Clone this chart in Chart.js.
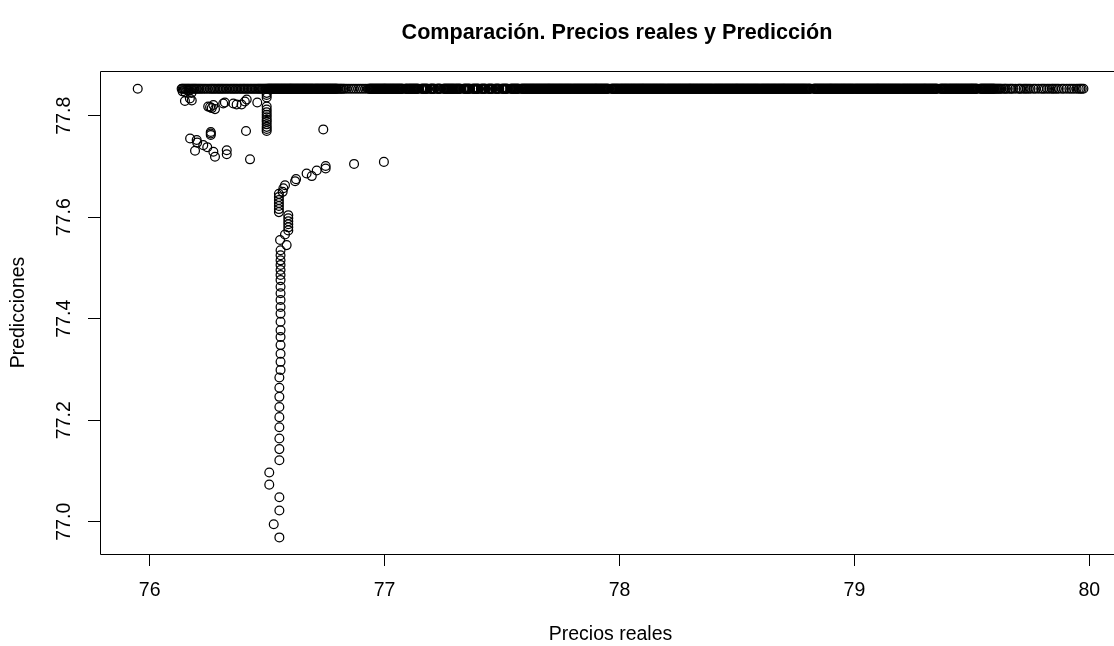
<!DOCTYPE html>
<html>
<head>
<meta charset="utf-8">
<title>Comparación. Precios reales y Predicción</title>
<script src="https://cdn.jsdelivr.net/npm/chart.js@4/dist/chart.umd.min.js"></script>
<style>
  html, body { margin: 0; padding: 0; background: #fff; overflow: hidden; }
  #marco { width: 1114px; height: 646px; overflow: hidden; position: relative; }
  canvas { position: absolute; left: 0; top: 0; }
</style>
</head>
<body>
<div id="marco"><canvas id="grafico" width="1130" height="646"></canvas></div>
<script>
// Precios reales cuya predicción queda en el valor máximo del modelo
const prediccionTope = 77.853;
const realesTope = [
  75.949,
  76.136, 76.14, 76.145, 76.15, 76.155, 76.16, 76.165, 76.17, 76.176, 76.181, 76.186, 76.191, 76.196,
  76.201, 76.207, 76.213, 76.219, 76.226, 76.233, 76.24, 76.248, 76.256, 76.262, 76.268, 76.274, 76.28, 76.287, 76.293, 76.299,
  76.305, 76.311, 76.317, 76.324, 76.33, 76.337, 76.344, 76.35, 76.356, 76.362, 76.368, 76.374, 76.381, 76.387, 76.393, 76.399,
  76.404, 76.41, 76.416, 76.422, 76.428, 76.434, 76.44, 76.446, 76.452, 76.458, 76.463, 76.468, 76.473, 76.478, 76.483, 76.488, 76.493, 76.497,
  76.501, 76.504, 76.506, 76.509, 76.511, 76.514, 76.516, 76.519, 76.521, 76.524, 76.526, 76.529, 76.531, 76.534, 76.536, 76.539, 76.541, 76.544, 76.546, 76.549,
  76.551, 76.554, 76.556, 76.559, 76.561, 76.564, 76.566, 76.569, 76.571, 76.574, 76.576, 76.579, 76.581, 76.584, 76.586, 76.589, 76.591, 76.594, 76.596, 76.599,
  76.6, 76.603, 76.605, 76.608, 76.61, 76.613, 76.615, 76.618, 76.62, 76.623, 76.625, 76.628, 76.63, 76.633, 76.635, 76.638, 76.64, 76.643, 76.645, 76.648,
  76.65, 76.653, 76.655, 76.658, 76.66, 76.663, 76.665, 76.668, 76.67, 76.673, 76.675, 76.678, 76.68, 76.683, 76.685, 76.688, 76.69, 76.693, 76.695, 76.698,
  76.701, 76.704, 76.706, 76.709, 76.711, 76.714, 76.716, 76.719, 76.721, 76.724, 76.726, 76.729, 76.731, 76.734, 76.736, 76.739, 76.741, 76.744, 76.746, 76.749,
  76.751, 76.754, 76.756, 76.759, 76.761, 76.764, 76.766, 76.769, 76.771, 76.774, 76.776, 76.779, 76.781, 76.784, 76.786, 76.789, 76.791, 76.794, 76.796, 76.799,
  76.804, 76.809, 76.814, 76.818, 76.824, 76.829, 76.838, 76.848, 76.858, 76.868, 76.878, 76.888, 76.898,
  76.908, 76.918, 76.928, 76.934, 76.936, 76.939, 76.941, 76.944, 76.946, 76.949, 76.951, 76.954, 76.956, 76.959, 76.961, 76.964, 76.966,
  76.969, 76.971, 76.974, 76.976, 76.979, 76.981, 76.984, 76.986, 76.989, 76.991, 76.994, 76.996, 76.999,
  77.0, 77.003, 77.005, 77.008, 77.01, 77.013, 77.015, 77.018, 77.02, 77.023, 77.025, 77.028, 77.03, 77.033, 77.035, 77.038, 77.04, 77.043, 77.045, 77.048,
  77.05, 77.053, 77.055, 77.058, 77.06, 77.063, 77.065, 77.068, 77.07, 77.073, 77.075, 77.078, 77.088, 77.09, 77.093, 77.095, 77.098,
  77.101, 77.104, 77.106, 77.109, 77.111, 77.114, 77.116, 77.119, 77.121, 77.124, 77.126, 77.129, 77.131, 77.134, 77.136, 77.139, 77.141, 77.144,
  77.156, 77.159, 77.161, 77.164, 77.166, 77.169, 77.171, 77.174, 77.176, 77.179, 77.181, 77.184, 77.194, 77.196, 77.199,
  77.2, 77.203, 77.205, 77.208, 77.21, 77.213, 77.223, 77.225, 77.228, 77.23, 77.233, 77.235, 77.238,
  77.25, 77.253, 77.255, 77.258, 77.26, 77.263, 77.265, 77.268, 77.27, 77.273, 77.275, 77.278, 77.28, 77.283, 77.285, 77.288, 77.29, 77.293, 77.295, 77.298,
  77.301, 77.304, 77.306, 77.309, 77.311, 77.314, 77.316, 77.319, 77.321, 77.324, 77.336, 77.339, 77.341, 77.344, 77.346, 77.349,
  77.351, 77.354, 77.356, 77.359, 77.361, 77.364, 77.374, 77.376, 77.379, 77.381, 77.384, 77.386, 77.389, 77.391, 77.394, 77.396, 77.399,
  77.4, 77.41, 77.413, 77.415, 77.418, 77.42, 77.423, 77.425, 77.428, 77.43, 77.44, 77.443, 77.445, 77.448,
  77.45, 77.453, 77.455, 77.458, 77.46, 77.47, 77.473, 77.475, 77.478, 77.48, 77.483, 77.485, 77.488, 77.498,
  77.501, 77.504, 77.506, 77.509, 77.511, 77.514, 77.516, 77.519, 77.521, 77.524, 77.536, 77.539, 77.541, 77.544, 77.546, 77.549,
  77.551, 77.554, 77.556, 77.559, 77.561, 77.564, 77.566, 77.569, 77.571, 77.581, 77.584, 77.586, 77.589, 77.591, 77.594, 77.596, 77.599,
  77.601, 77.604, 77.606, 77.609, 77.611, 77.614, 77.616, 77.619, 77.621, 77.624, 77.626, 77.629, 77.631, 77.634, 77.636, 77.639, 77.641, 77.644, 77.646, 77.649,
  77.651, 77.654, 77.656, 77.659, 77.661, 77.664, 77.666, 77.669, 77.671, 77.674, 77.676, 77.679, 77.681, 77.684, 77.686, 77.689, 77.691, 77.694, 77.696, 77.699,
  77.7, 77.703, 77.705, 77.708, 77.71, 77.713, 77.715, 77.718, 77.72, 77.723, 77.725, 77.728, 77.73, 77.733, 77.735, 77.738, 77.74, 77.743, 77.745, 77.748,
  77.75, 77.753, 77.755, 77.758, 77.76, 77.763, 77.765, 77.768, 77.77, 77.773, 77.775, 77.778, 77.78, 77.783, 77.785, 77.788, 77.79, 77.793, 77.795, 77.798,
  77.801, 77.804, 77.806, 77.809, 77.811, 77.814, 77.816, 77.819, 77.821, 77.824, 77.826, 77.829, 77.831, 77.834, 77.836, 77.839, 77.841, 77.844, 77.846, 77.849,
  77.851, 77.854, 77.856, 77.859, 77.861, 77.864, 77.866, 77.869, 77.871, 77.874, 77.876, 77.879, 77.881, 77.884, 77.886, 77.889, 77.891, 77.894, 77.896, 77.899,
  77.9, 77.903, 77.905, 77.908, 77.91, 77.913, 77.915, 77.918, 77.92, 77.923, 77.925, 77.928, 77.93, 77.933, 77.935, 77.938, 77.94, 77.943, 77.945, 77.948,
  77.95, 77.953, 77.965, 77.968, 77.97, 77.973, 77.975, 77.978, 77.98, 77.983, 77.985, 77.988, 77.99, 77.993, 77.995, 77.998,
  78.001, 78.004, 78.006, 78.009, 78.011, 78.014, 78.016, 78.019, 78.021, 78.024, 78.026, 78.029, 78.031, 78.034, 78.036, 78.039, 78.041, 78.044, 78.046, 78.049,
  78.051, 78.054, 78.056, 78.059, 78.061, 78.064, 78.066, 78.069, 78.071, 78.074, 78.076, 78.079, 78.081, 78.084, 78.086, 78.089, 78.091, 78.094, 78.096, 78.099,
  78.1, 78.103, 78.105, 78.108, 78.11, 78.113, 78.115, 78.118, 78.12, 78.123, 78.125, 78.128, 78.13, 78.133, 78.135, 78.138, 78.14, 78.143, 78.145, 78.148,
  78.15, 78.153, 78.155, 78.158, 78.16, 78.163, 78.165, 78.168, 78.17, 78.173, 78.175, 78.178, 78.18, 78.183, 78.185, 78.188, 78.19, 78.193, 78.195, 78.198,
  78.201, 78.204, 78.206, 78.209, 78.211, 78.214, 78.216, 78.219, 78.221, 78.224, 78.226, 78.229, 78.231, 78.234, 78.236, 78.239, 78.241, 78.244, 78.246, 78.249,
  78.251, 78.254, 78.256, 78.259, 78.261, 78.264, 78.266, 78.269, 78.271, 78.274, 78.276, 78.279, 78.281, 78.284, 78.286, 78.289, 78.291, 78.294, 78.296, 78.299,
  78.3, 78.303, 78.305, 78.308, 78.31, 78.313, 78.315, 78.318, 78.32, 78.323, 78.325, 78.328, 78.33, 78.333, 78.335, 78.338, 78.34, 78.343, 78.345, 78.348,
  78.35, 78.353, 78.355, 78.358, 78.36, 78.363, 78.365, 78.368, 78.37, 78.373, 78.375, 78.378, 78.38, 78.383, 78.385, 78.388, 78.39, 78.393, 78.395, 78.398,
  78.401, 78.404, 78.406, 78.409, 78.411, 78.414, 78.416, 78.419, 78.421, 78.424, 78.426, 78.429, 78.431, 78.434, 78.436, 78.439, 78.441, 78.444, 78.446, 78.449,
  78.451, 78.454, 78.456, 78.459, 78.461, 78.464, 78.466, 78.469, 78.471, 78.474, 78.476, 78.479, 78.481, 78.484, 78.486, 78.489, 78.491, 78.494, 78.496, 78.499,
  78.5, 78.503, 78.505, 78.508, 78.51, 78.513, 78.515, 78.518, 78.52, 78.523, 78.525, 78.528, 78.53, 78.533, 78.535, 78.538, 78.54, 78.543, 78.545, 78.548,
  78.55, 78.553, 78.555, 78.558, 78.56, 78.563, 78.565, 78.568, 78.57, 78.573, 78.575, 78.578, 78.58, 78.583, 78.585, 78.588, 78.59, 78.593, 78.595, 78.598,
  78.601, 78.604, 78.606, 78.609, 78.611, 78.614, 78.616, 78.619, 78.621, 78.624, 78.626, 78.629, 78.631, 78.634, 78.636, 78.639, 78.641, 78.644, 78.646, 78.649,
  78.651, 78.654, 78.656, 78.659, 78.661, 78.664, 78.666, 78.669, 78.671, 78.674, 78.676, 78.679, 78.681, 78.684, 78.686, 78.689, 78.691, 78.694, 78.696, 78.699,
  78.7, 78.703, 78.705, 78.708, 78.71, 78.713, 78.715, 78.718, 78.72, 78.723, 78.725, 78.728, 78.73, 78.733, 78.735, 78.738, 78.74, 78.743, 78.745, 78.748,
  78.75, 78.753, 78.755, 78.758, 78.76, 78.763, 78.765, 78.768, 78.77, 78.773, 78.775, 78.778, 78.78, 78.783, 78.785, 78.788, 78.79, 78.793, 78.795, 78.798,
  78.801, 78.804, 78.806, 78.809, 78.811, 78.814, 78.826, 78.829, 78.831, 78.834, 78.836, 78.839, 78.841, 78.844, 78.846, 78.849,
  78.851, 78.854, 78.856, 78.859, 78.861, 78.864, 78.866, 78.869, 78.871, 78.874, 78.876, 78.879, 78.881, 78.884, 78.886, 78.889, 78.891, 78.894, 78.896, 78.899,
  78.9, 78.903, 78.905, 78.908, 78.91, 78.913, 78.915, 78.918, 78.92, 78.923, 78.925, 78.928, 78.93, 78.933, 78.935, 78.938, 78.94, 78.943, 78.945, 78.948,
  78.95, 78.953, 78.955, 78.958, 78.96, 78.963, 78.965, 78.968, 78.97, 78.973, 78.975, 78.978, 78.98, 78.983, 78.985, 78.988, 78.99, 78.993, 78.995, 78.998,
  79.001, 79.004, 79.006, 79.009, 79.011, 79.014, 79.016, 79.019, 79.021, 79.024, 79.026, 79.029, 79.031, 79.034, 79.036, 79.039, 79.041, 79.044, 79.046, 79.049,
  79.051, 79.054, 79.056, 79.059, 79.061, 79.064, 79.066, 79.069, 79.071, 79.074, 79.076, 79.079, 79.081, 79.084, 79.086, 79.089, 79.091, 79.094, 79.096, 79.099,
  79.1, 79.103, 79.105, 79.108, 79.11, 79.113, 79.115, 79.118, 79.12, 79.123, 79.125, 79.128, 79.13, 79.133, 79.135, 79.138, 79.14, 79.143, 79.145, 79.148,
  79.15, 79.153, 79.155, 79.158, 79.16, 79.163, 79.165, 79.168, 79.17, 79.173, 79.175, 79.178, 79.18, 79.183, 79.185, 79.188, 79.19, 79.193, 79.195, 79.198,
  79.201, 79.204, 79.206, 79.209, 79.211, 79.214, 79.216, 79.219, 79.221, 79.224, 79.226, 79.229, 79.231, 79.234, 79.236, 79.239, 79.241, 79.244, 79.246, 79.249,
  79.251, 79.254, 79.256, 79.259, 79.261, 79.264, 79.266, 79.269, 79.271, 79.274, 79.276, 79.279, 79.281, 79.284, 79.286, 79.289, 79.291, 79.294, 79.296, 79.299,
  79.3, 79.303, 79.305, 79.308, 79.31, 79.313, 79.315, 79.318, 79.32, 79.323, 79.325, 79.328, 79.33, 79.333, 79.335, 79.338, 79.34, 79.343, 79.345, 79.348,
  79.35, 79.353, 79.365, 79.368, 79.37, 79.373, 79.375, 79.378, 79.38, 79.383, 79.385, 79.388, 79.39, 79.393, 79.395, 79.398,
  79.401, 79.404, 79.406, 79.409, 79.411, 79.414, 79.416, 79.419, 79.421, 79.424, 79.426, 79.429, 79.431, 79.434, 79.436, 79.439, 79.441, 79.444, 79.446, 79.449,
  79.451, 79.454, 79.456, 79.459, 79.461, 79.464, 79.466, 79.469, 79.471, 79.474, 79.476, 79.479, 79.481, 79.484, 79.486, 79.489, 79.491, 79.494, 79.496, 79.499,
  79.5, 79.503, 79.505, 79.508, 79.51, 79.513, 79.515, 79.518, 79.52, 79.523, 79.535, 79.538, 79.54, 79.543, 79.545, 79.548,
  79.55, 79.553, 79.555, 79.558, 79.56, 79.563, 79.565, 79.568, 79.57, 79.573, 79.575, 79.578, 79.58, 79.583, 79.585, 79.588, 79.59, 79.593, 79.595, 79.598,
  79.603, 79.607, 79.612, 79.616, 79.621, 79.626, 79.634, 79.641, 79.645, 79.653, 79.662, 79.668, 79.675, 79.686, 79.698,
  79.704, 79.71, 79.72, 79.727, 79.734, 79.742, 79.75, 79.762, 79.771, 79.783, 79.795,
  79.803, 79.811, 79.821, 79.83, 79.84, 79.846, 79.854, 79.862, 79.87, 79.883, 79.892,
  79.904, 79.915, 79.925, 79.935, 79.946, 79.955, 79.962, 79.968, 79.975
];

// Resto de observaciones: precio real y su predicción
const realesResto = [
  76.14, 76.152, 76.165, 76.178,
  76.15, 76.179, 76.171,
  76.249, 76.264, 76.278, 76.271, 76.257,
  76.313, 76.32,
  76.356, 76.37, 76.391, 76.405, 76.413,
  76.458,
  76.498, 76.498, 76.498,
  76.498, 76.498, 76.498, 76.498, 76.498, 76.498, 76.498, 76.498, 76.498, 76.498, 76.498,
  76.41, 76.739,
  76.26, 76.26, 76.26,
  76.172, 76.2, 76.202, 76.228, 76.245, 76.193,
  76.271, 76.278, 76.328, 76.328, 76.427,
  76.87, 76.997,
  76.749, 76.749, 76.711, 76.69, 76.668,
  76.623, 76.619, 76.576, 76.569, 76.566,
  76.55, 76.55, 76.55, 76.55, 76.55, 76.55, 76.55,
  76.59, 76.59, 76.59, 76.59, 76.59, 76.59,
  76.576, 76.583, 76.555,
  76.557, 76.557, 76.557, 76.557, 76.557, 76.557, 76.557, 76.557, 76.557, 76.557,
  76.557, 76.557, 76.557, 76.557, 76.557, 76.557, 76.557, 76.557, 76.557,
  76.552, 76.552, 76.552, 76.552, 76.552, 76.552, 76.552, 76.552, 76.552,
  76.509, 76.509, 76.552, 76.552, 76.528, 76.552
];
const prediccionesResto = [
  77.848, 77.846, 77.849, 77.845,
  77.829, 77.83, 77.834,
  77.818, 77.815, 77.813, 77.821, 77.817,
  77.824, 77.826,
  77.824, 77.822, 77.822, 77.828, 77.832,
  77.826,
  77.841, 77.845, 77.836,
  77.818, 77.812, 77.807, 77.802, 77.797, 77.792, 77.788, 77.783, 77.778, 77.774, 77.77,
  77.77, 77.773,
  77.768, 77.765, 77.762,
  77.755, 77.752, 77.747, 77.742, 77.738, 77.731,
  77.729, 77.719, 77.732, 77.724, 77.714,
  77.705, 77.709,
  77.701, 77.696, 77.692, 77.681, 77.686,
  77.675, 77.671, 77.663, 77.657, 77.65,
  77.646, 77.64, 77.634, 77.628, 77.622, 77.616, 77.61,
  77.604, 77.598, 77.592, 77.586, 77.58, 77.574,
  77.566, 77.545, 77.555,
  77.535, 77.525, 77.515, 77.506, 77.496, 77.486, 77.476, 77.463, 77.45, 77.437,
  77.423, 77.41, 77.394, 77.377, 77.364, 77.348, 77.331, 77.315, 77.299,
  77.284, 77.264, 77.246, 77.226, 77.206, 77.186, 77.164, 77.143, 77.121,
  77.097, 77.073, 77.048, 77.022, 76.995, 76.969
];

const ticksX = [76, 77, 78, 79, 80];
const ticksY = [77.0, 77.2, 77.4, 77.6, 77.8];
const etiquetasY = ['77.0', '77.2', '77.4', '77.6', '77.8'];
const titulo = 'Comparación. Precios reales y Predicción';

const puntos = realesTope.map(x => ({ x: x, y: prediccionTope }))
  .concat(realesResto.map((x, i) => ({ x: x, y: prediccionesResto[i] })));

const fuente = "'Liberation Sans', Arial, Helvetica, sans-serif";
const tamEje = 19.5;

// Marco del área de trazado (arriba, izquierda y abajo; el lado derecho cae fuera de la vista)
const caja = {
  id: 'caja',
  afterDraw(chart) {
    const { ctx, chartArea: a } = chart;
    const l = Math.round(a.left) + 0.5, t = Math.round(a.top) + 0.5;
    const b = Math.round(a.bottom) + 0.5, r = Math.round(a.right) + 0.5;
    ctx.save();
    ctx.strokeStyle = '#000';
    ctx.lineWidth = 1;
    ctx.beginPath();
    ctx.moveTo(r, t); ctx.lineTo(l, t); ctx.lineTo(l, b); ctx.lineTo(r, b);
    ctx.stroke();
    ctx.restore();
  }
};

// Título principal y etiquetas del eje Y giradas, paralelas al eje
const textos = {
  id: 'textos',
  afterDraw(chart) {
    const { ctx } = chart;
    const y = chart.scales.y;
    ctx.save();
    ctx.fillStyle = '#000';
    ctx.textAlign = 'center';
    ctx.textBaseline = 'middle';
    ctx.font = 'bold 21.6px ' + fuente;
    ctx.fillText(titulo, 617, 33);
    ctx.font = tamEje + 'px ' + fuente;
    ticksY.forEach((v, i) => {
      const py = y.getPixelForValue(v);
      ctx.save();
      ctx.translate(65, py);
      ctx.rotate(-Math.PI / 2);
      ctx.fillText(etiquetasY[i], 0, 0);
      ctx.restore();
    });
    ctx.restore();
  }
};

new Chart(document.getElementById('grafico'), {
  type: 'scatter',
  data: {
    datasets: [{
      data: puntos,
      pointStyle: 'circle',
      pointRadius: 4.4,
      pointHoverRadius: 4.4,
      pointBorderWidth: 1.25,
      pointBorderColor: '#000',
      pointBackgroundColor: 'rgba(0,0,0,0)',
      showLine: false
    }]
  },
  options: {
    responsive: false,
    devicePixelRatio: 1,
    animation: false,
    events: [],
    layout: { padding: { left: 0, right: 9, top: 71, bottom: 0 } },
    plugins: {
      legend: { display: false },
      tooltip: { enabled: false },
      title: { display: false }
    },
    scales: {
      x: {
        type: 'linear',
        min: 75.7884,
        max: 80.135,
        afterBuildTicks: s => { s.ticks = ticksX.map(v => ({ value: v })); },
        afterFit: s => { s.height = 92; },
        ticks: {
          color: '#000',
          font: { family: fuente, size: tamEje },
          padding: 13,
          maxRotation: 0,
          callback: v => String(v)
        },
        grid: { display: true, drawOnChartArea: false, drawTicks: true, tickLength: 12, color: '#000', lineWidth: 1 },
        border: { display: false },
        title: {
          display: true,
          text: 'Precios reales',
          color: '#000',
          font: { family: fuente, size: tamEje },
          padding: { top: 0, bottom: 0 }
        }
      },
      y: {
        type: 'linear',
        min: 76.9363,
        max: 77.8881,
        afterBuildTicks: s => { s.ticks = ticksY.map(v => ({ value: v })); },
        afterFit: s => { s.width = 100; },
        ticks: { display: false },
        grid: { display: true, drawOnChartArea: false, drawTicks: true, tickLength: 12, color: '#000', lineWidth: 1 },
        border: { display: false },
        title: {
          display: true,
          text: 'Predicciones',
          color: '#000',
          font: { family: fuente, size: tamEje },
          padding: { top: 7, bottom: 0 }
        }
      }
    }
  },
  plugins: [caja, textos]
});
</script>
</body>
</html>
